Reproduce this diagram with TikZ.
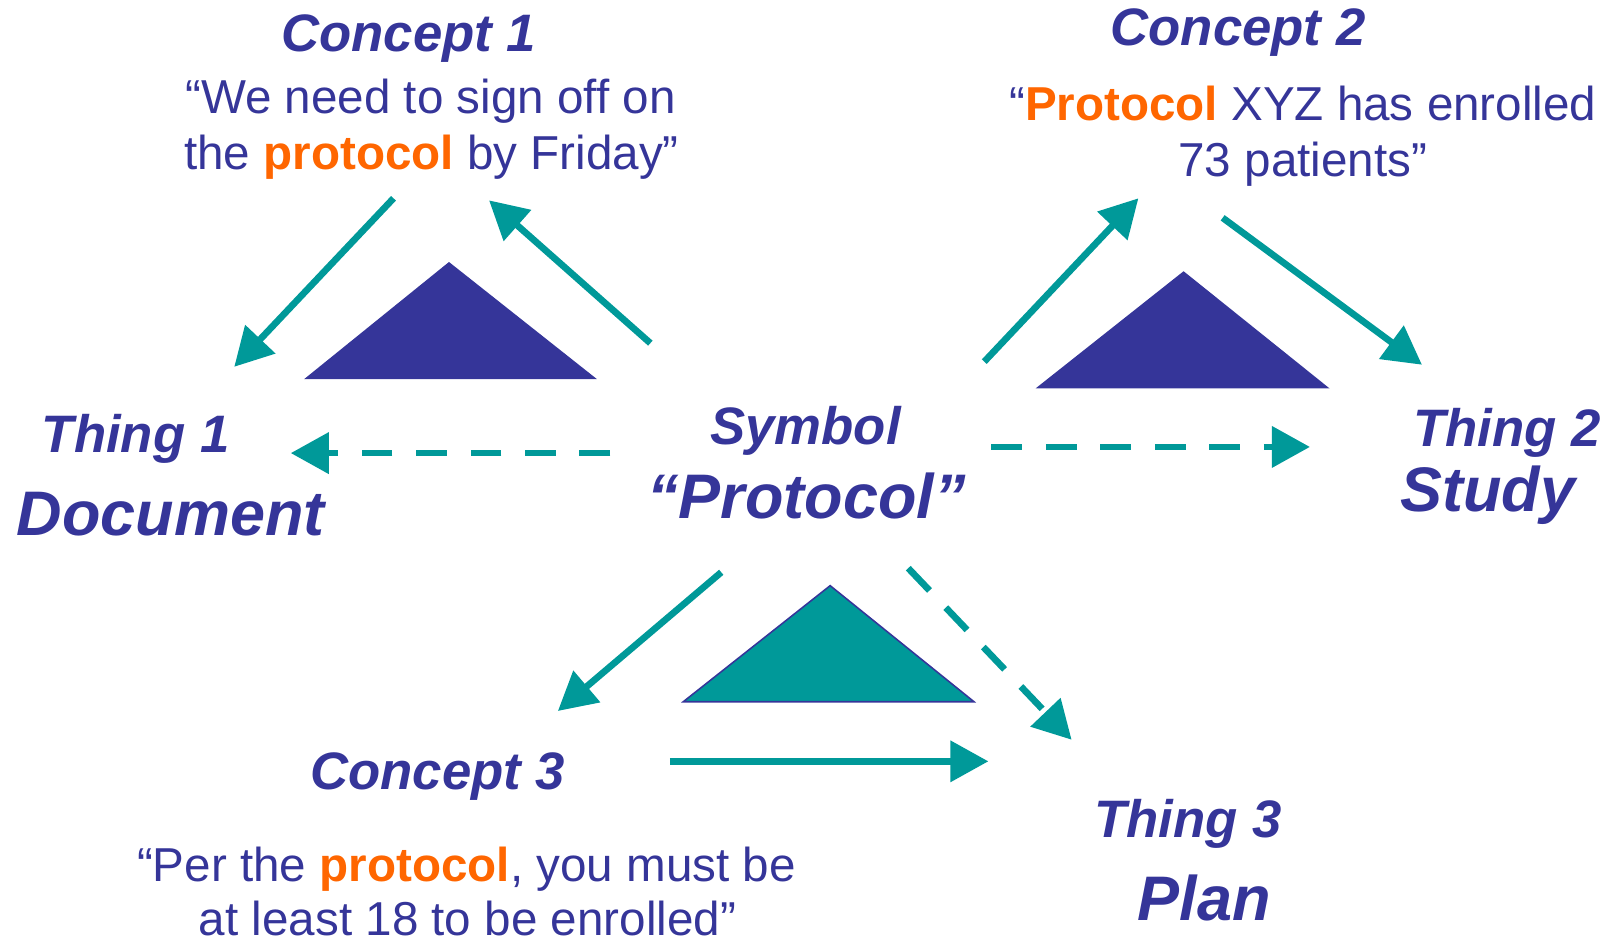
\documentclass[tikz,border=0pt]{standalone}
\usepackage{fontspec}
\setmainfont{Liberation Sans}
\usetikzlibrary{arrows.meta}
\definecolor{navy}{HTML}{353599}
\definecolor{teal2}{HTML}{009999}
\definecolor{orng}{HTML}{FF6600}
\begin{document}
\begin{tikzpicture}[x=1bp,y=-1bp,
  head/.style={font=\fontsize{51.5}{60}\selectfont\bfseries\itshape, text=navy, inner sep=0, anchor=base},
  big/.style={font=\fontsize{61.5}{70}\selectfont\bfseries\itshape, text=navy, inner sep=0, anchor=base},
  quote/.style={font=\fontsize{46.5}{56}\selectfont, text=navy, inner sep=0, anchor=base},
  link/.style={draw=teal2, line width=6.5bp, -{Triangle[length=37bp,width=39bp]}},
  dlink/.style={link, dash pattern=on 30bp off 23bp},
  navytri/.style={fill=navy},
  tealtri/.style={fill=teal2, draw=navy, line width=1.5bp, line join=miter}]
\useasboundingbox (0,0) rectangle (1568,918);

% triangles
\path[navytri] (437,255) -- (581,369) -- (296,369) -- cycle;
\path[navytri] (1152,264) -- (1294,378) -- (1008,378) -- cycle;
\path[tealtri] (808,570) -- (948,683) -- (665,683) -- cycle;

% texts
\newcommand{\hlp}[1]{{\bfseries\color{orng}#1}}
\node[head] (c1) at (398,50) {Concept 1};
\node[quote] (q1a) at (419,110) {“We need to sign off on};
\node[quote] (q1b) at (420,165) {the \hlp{protocol} by Friday”};
\node[head] (c2) at (1205,44) {Concept 2};
\node[quote] (q2a) at (1268,117) {“\hlp{Protocol} XYZ has enrolled};
\node[quote] (q2b) at (1268,172) {73 patients”};
\node[head] (t1) at (132,440) {Thing 1};
\node[big] (d1) at (166,521) {Document};
\node[head] (sym) at (784,433) {Symbol};
\node[big] (proto) at (785,505) {“Protocol”};
\node[head] (t2) at (1467,435) {Thing 2};
\node[big] (study) at (1448,498) {Study};
\node[head] (c3) at (426,768) {Concept 3};
\node[quote] (q3a) at (454,858) {“Per the \hlp{protocol}, you must be};
\node[quote] (q3b) at (455,911) {at least 18 to be enrolled”};
\node[head] (t3) at (1156,815) {Thing 3};
\node[big] (plan) at (1172,896) {Plan};

% connector end points
\coordinate (a1s) at (383,193);  \coordinate (a1e) at (228,357);
\coordinate (a2s) at (633,334);  \coordinate (a2e) at (476,195);
\coordinate (a3s) at (594,441);  \coordinate (a3e) at (283,441);
\coordinate (a4s) at (958,352);  \coordinate (a4e) at (1108,193);
\coordinate (a5s) at (1190,212); \coordinate (a5e) at (1384,355);
\coordinate (a6s) at (965,435);  \coordinate (a6e) at (1275,435);
\coordinate (a7s) at (702,557);  \coordinate (a7e) at (543,692);
\coordinate (a8s) at (652,741);  \coordinate (a8e) at (962,741);
\coordinate (a9s) at (884,553);  \coordinate (a9e) at (1043,720);

\draw[link] (a1s) -- (a1e);
\draw[link] (a2s) -- (a2e);
\draw[dlink] (a3s) -- (a3e);
\draw[link] (a4s) -- (a4e);
\draw[link] (a5s) -- (a5e);
\draw[dlink] (a6s) -- (a6e);
\draw[link] (a7s) -- (a7e);
\draw[link] (a8s) -- (a8e);
\draw[dlink] (a9s) -- (a9e);
\end{tikzpicture}
\end{document}
